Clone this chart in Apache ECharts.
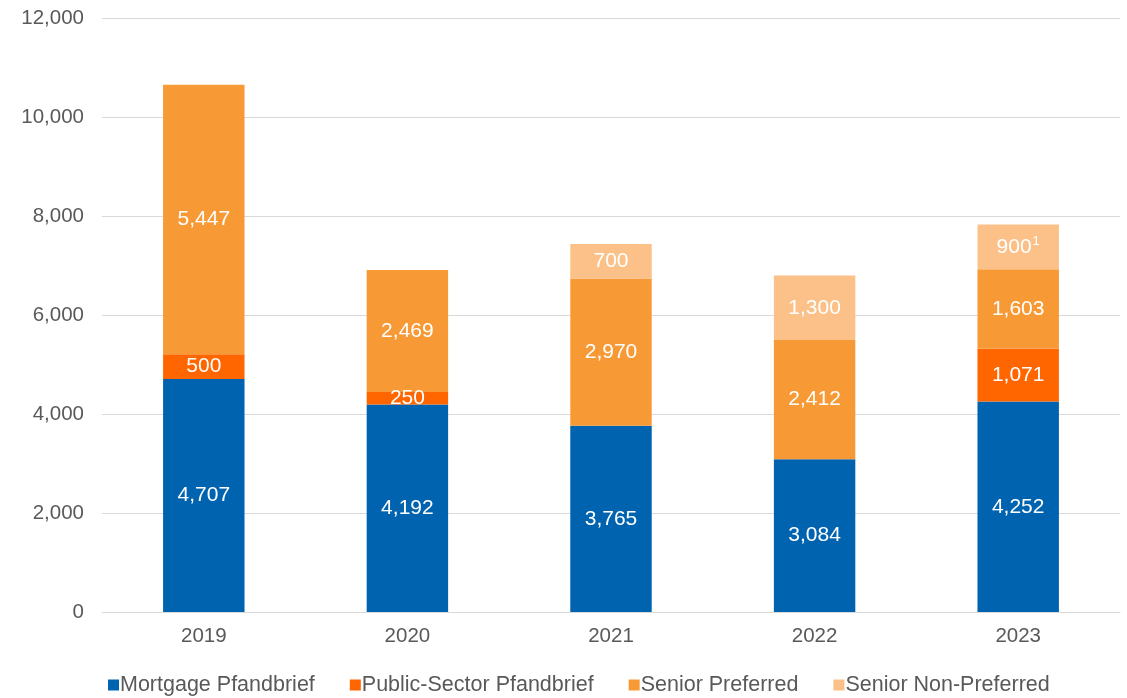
<!DOCTYPE html>
<html>
<head>
<meta charset="utf-8">
<script src="https://cdn.jsdelivr.net/npm/echarts@6/dist/echarts.min.js"></script>
<style>
  html, body { margin: 0; padding: 0; background: #ffffff; }
  #chart { width: 1127px; height: 698px; }
</style>
</head>
<body>
<div id="chart"></div>
<script>
// Issuance volumes by instrument type, 2019–2023
const years = ['2019', '2020', '2021', '2022', '2023'];
const mortgagePfandbrief = [4707, 4192, 3765, 3084, 4252];
const publicSectorPfandbrief = [500, 250, null, null, 1071];
const seniorPreferred = [5447, 2469, 2970, 2412, 1603];
const seniorNonPreferred = [null, null, 700, 1300, 900];
// footnote marker attached to a single value label (year index -> footnote)
const nonPreferredFootnotes = { 4: '1' };

const fontFamily = 'Liberation Sans, Arial, sans-serif';

function fmt(v) {
  return v.toLocaleString('en-US');
}

function barSeries(name, data, color, footnotes) {
  return {
    name: name,
    type: 'bar',
    stack: 'total',
    data: data,
    barWidth: '40%',
    itemStyle: { color: color },
    label: {
      show: true,
      position: 'inside',
      color: '#ffffff',
      fontSize: 21,
      fontFamily: fontFamily,
      formatter: function (p) {
        if (p.value == null) return '';
        const fn = footnotes && footnotes[p.dataIndex];
        return fn ? fmt(p.value) + '{sup|' + fn + '}' : fmt(p.value);
      },
      rich: {
        sup: { fontSize: 13, color: '#ffffff', verticalAlign: 'top', padding: [0, 0, 10, 1], fontFamily: fontFamily }
      }
    },
    emphasis: { disabled: true }
  };
}

const chart = echarts.init(document.getElementById('chart'), null, { renderer: 'canvas' });
chart.setOption({
  animation: false,
  backgroundColor: '#ffffff',
  grid: { left: 102, right: 7, top: 18, bottom: 86, containLabel: false },
  legend: {
    top: 669,
    left: 103,
    itemWidth: 11,
    itemHeight: 11,
    itemGap: 35,
    icon: 'rect',
    textStyle: { color: '#595959', fontSize: 21.5, fontFamily: fontFamily, padding: [0, 0, 0, -4] },
    data: ['Mortgage Pfandbrief', 'Public-Sector Pfandbrief', 'Senior Preferred', 'Senior Non-Preferred']
  },
  xAxis: {
    type: 'category',
    data: years,
    axisLine: { show: true, lineStyle: { color: '#d9d9d9', width: 1 } },
    axisTick: { show: false },
    axisLabel: { color: '#595959', fontSize: 20.5, fontFamily: fontFamily, margin: 14 }
  },
  yAxis: {
    type: 'value',
    min: 0,
    max: 12000,
    interval: 2000,
    axisLine: { show: false },
    axisTick: { show: false },
    splitLine: { lineStyle: { color: '#d9d9d9', width: 1 } },
    axisLabel: {
      color: '#595959', fontSize: 20.5, fontFamily: fontFamily, margin: 18,
      formatter: function (v) { return fmt(v); }
    }
  },
  series: [
    barSeries('Mortgage Pfandbrief', mortgagePfandbrief, '#0063af'),
    barSeries('Public-Sector Pfandbrief', publicSectorPfandbrief, '#ff6600'),
    barSeries('Senior Preferred', seniorPreferred, '#f79a36'),
    barSeries('Senior Non-Preferred', seniorNonPreferred, '#fcc188', nonPreferredFootnotes)
  ]
});
</script>
</body>
</html>
